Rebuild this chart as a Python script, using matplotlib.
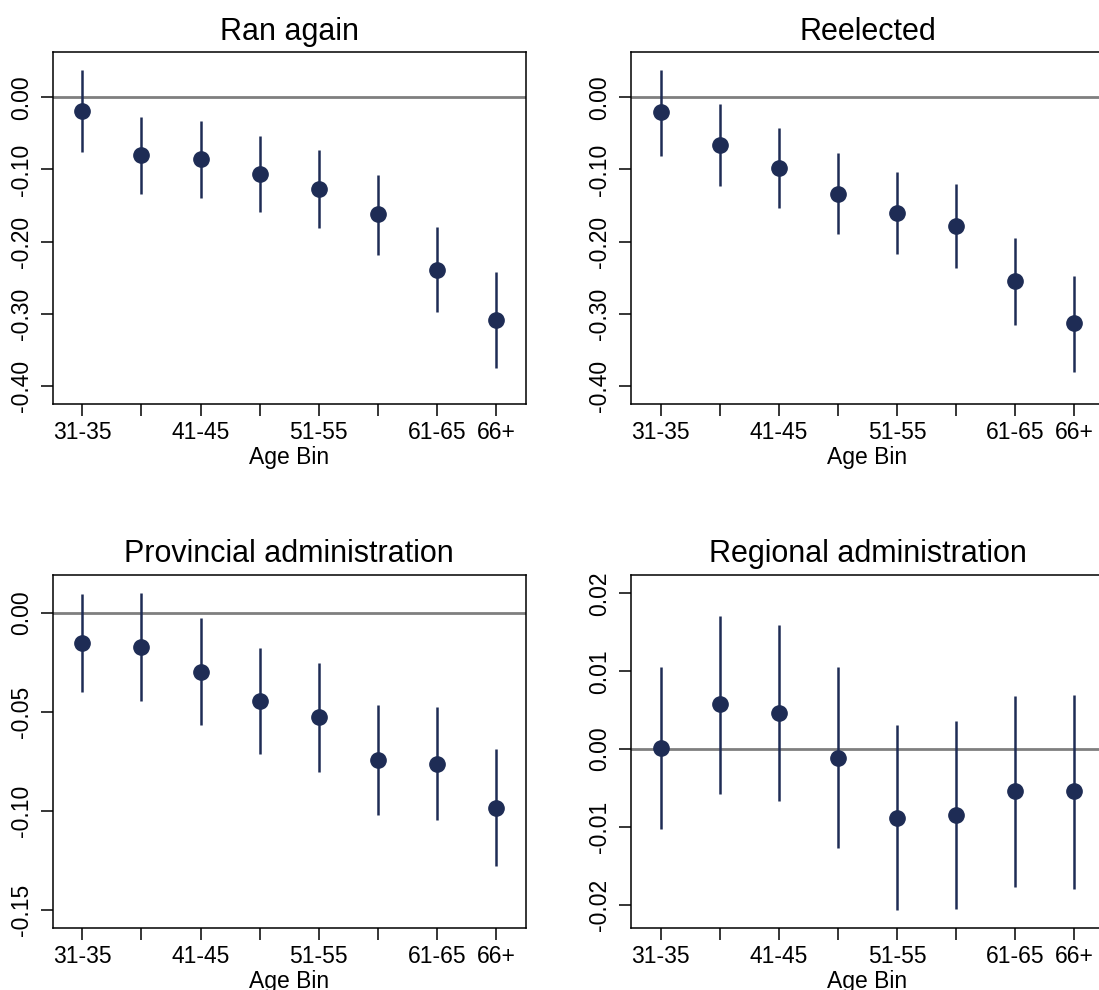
import numpy as np
import matplotlib
matplotlib.use("Agg")
import matplotlib.pyplot as plt

plt.rcParams['font.family'] = ['Liberation Sans', 'DejaVu Sans']

# age bins on the x axis, only every other one gets a label (plus the last)
age_bins = ["31-35", "36-40", "41-45", "46-50", "51-55", "56-60", "61-65", "66+"]
shown_bins = ["31-35", "41-45", "51-55", "61-65", "66+"]

# point estimates and 95% CI bounds per outcome
ran_again = [-0.019, -0.080, -0.086, -0.106, -0.127, -0.162, -0.239, -0.308]
ran_again_lo = [-0.076, -0.134, -0.139, -0.159, -0.181, -0.218, -0.298, -0.375]
ran_again_hi = [0.038, -0.027, -0.033, -0.053, -0.073, -0.107, -0.180, -0.242]

reelected = [-0.021, -0.066, -0.098, -0.134, -0.160, -0.178, -0.255, -0.313]
reelected_lo = [-0.082, -0.123, -0.154, -0.190, -0.217, -0.236, -0.315, -0.380]
reelected_hi = [0.038, -0.009, -0.043, -0.077, -0.104, -0.120, -0.195, -0.248]

provincial = [-0.0154, -0.0175, -0.0299, -0.0446, -0.0527, -0.0743, -0.0762, -0.0985]
provincial_lo = [-0.0401, -0.0446, -0.0567, -0.0713, -0.0802, -0.1022, -0.1045, -0.1280]
provincial_hi = [0.0094, 0.0097, -0.0029, -0.0180, -0.0253, -0.0468, -0.0478, -0.0688]

regional = [0.0001, 0.0058, 0.0046, -0.0012, -0.0088, -0.0085, -0.0054, -0.0054]
regional_lo = [-0.0103, -0.0057, -0.0067, -0.0127, -0.0206, -0.0205, -0.0177, -0.0179]
regional_hi = [0.0106, 0.0171, 0.0159, 0.0105, 0.0031, 0.0036, 0.0068, 0.0070]

panels = [
    ("Ran again", ran_again, ran_again_lo, ran_again_hi,
     [0.0, -0.1, -0.2, -0.3, -0.4], (-0.4252, 0.0623)),
    ("Reelected", reelected, reelected_lo, reelected_hi,
     [0.0, -0.1, -0.2, -0.3, -0.4], (-0.4252, 0.0623)),
    ("Provincial administration", provincial, provincial_lo, provincial_hi,
     [0.0, -0.05, -0.1, -0.15], (-0.1592, 0.019)),
    ("Regional administration", regional, regional_lo, regional_hi,
     [0.02, 0.01, 0.0, -0.01, -0.02], (-0.0230, 0.02235)),
]

# axes boxes [left, bottom, width, height]; the right column runs past the edge
boxes = [
    [0.0480, 0.5916, 0.4304, 0.3556],
    [0.5742, 0.5916, 0.4304, 0.3556],
    [0.0480, 0.0623, 0.4304, 0.3569],
    [0.5742, 0.0623, 0.4304, 0.3569],
]

navy = "#1e2c55"
x = np.arange(1, len(age_bins) + 1)
xlabels = [b if b in shown_bins else "" for b in age_bins]

fig = plt.figure(figsize=(10.99, 9.9), dpi=100)

for (title, est, lo, hi, yticks, ylim), box in zip(panels, boxes):
    ax = fig.add_axes(box)
    ax.axhline(0, color="#7f7f7f", lw=2.0, zorder=1)
    ax.vlines(x, lo, hi, color=navy, lw=1.8, zorder=2)
    ax.plot(x, est, "o", color=navy, ms=11, zorder=3)

    ax.set_xlim(0.5, 8.5)
    ax.set_ylim(*ylim)
    ax.set_xticks(x)
    ax.set_xticklabels(xlabels)
    ax.set_yticks(yticks)
    ax.set_yticklabels(["%.2f" % v for v in yticks])
    for lab in ax.get_yticklabels():
        lab.set_rotation(90)
        lab.set_va("center")

    ax.tick_params(axis="both", length=8.3, width=1.1, labelsize=16.5, color="black")
    ax.tick_params(axis="x", pad=4)
    ax.tick_params(axis="y", pad=6)
    for s in ax.spines.values():
        s.set_linewidth(1.1)

    ax.set_title(title, fontsize=22, pad=9)
    ax.set_xlabel("Age Bin", fontsize=16.5, labelpad=1)

fig.savefig("out.png", dpi=100)
